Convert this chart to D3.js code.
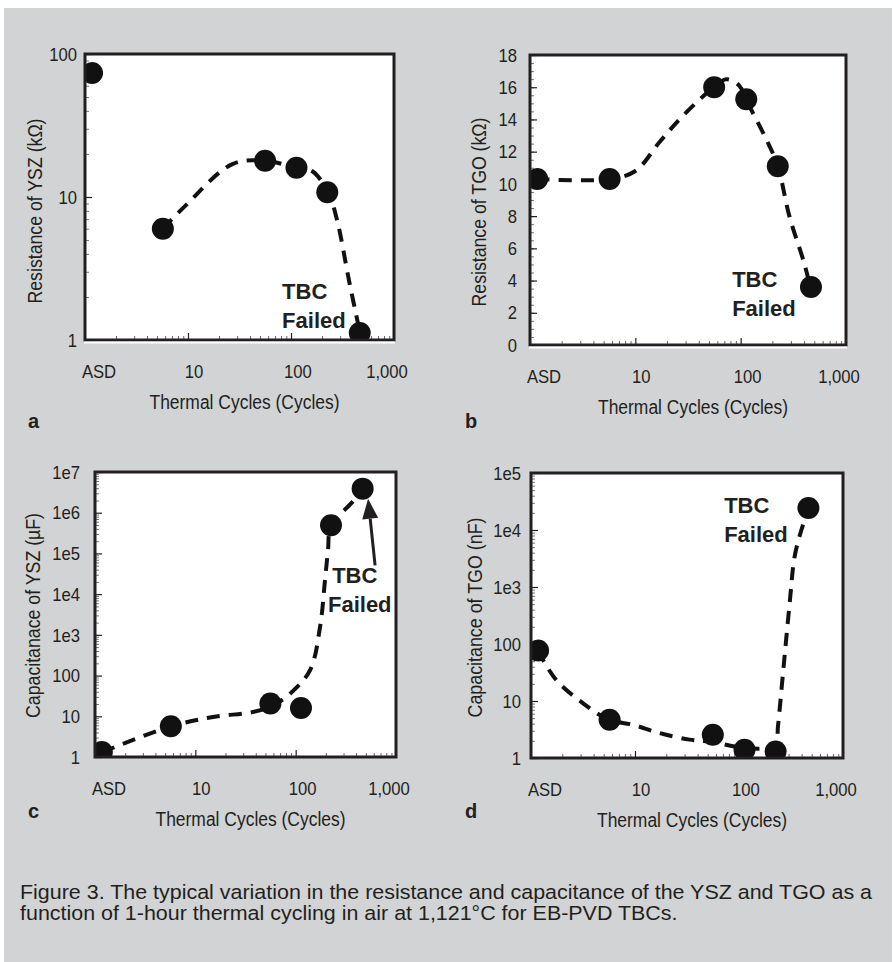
<!DOCTYPE html>
<html>
<head>
<meta charset="utf-8">
<script src="https://cdn.jsdelivr.net/npm/d3@7"></script>
<style>
  body { margin: 0; background: #fff; }
  svg { display: block; font-family: "Liberation Sans", Arial, Helvetica, sans-serif; }
</style>
</head>
<body>
<div id="fig"></div>
<script>
// Thermal cycles where the points sit (ASD = as deposited, drawn near 1)
const cycles = [1.17, 5.7, 56, 113, 225, 465];
const xTickVals = [1, 10, 100, 1000];
const xTickLabels = ["ASD", "10", "100", "1,000"];

// measured values, one per cycle
const resYSZ = [73.6, 6.0, 17.9, 16.0, 10.8, 1.12];   // kOhm
const resTGO = [10.3, 10.3, 16.0, 15.25, 11.1, 3.6];  // kOhm
const capYSZ = [1.33, 5.7, 20.5, 16, 4.9e5, 3.9e6];   // uF
const capTGO = [77, 4.7, 2.56, 1.4, 1.3, 2.43e4];     // nF

// hand-drawn dashed trend curves, [cycles, value]
const trendResYSZ = [[5.7, 6], [9.3, 8.6], [27, 17], [57, 17.9], [112, 16], [160, 15.2], [229, 10.8], [280, 6.9], [370, 2.5], [468, 1.12]];
const trendResTGO = [[1.16, 10.3], [5.67, 10.3], [10, 10.8], [17, 12.6], [28, 14.2], [55.5, 16.0], [73, 16.5], [97, 16.1], [112, 15.25], [174, 12.8], [225, 11.1], [290, 8.0], [400, 5.1], [459, 3.6]];
const trendCapYSZ = [[1.19, 1.33], [5.8, 5.7], [15, 9.6], [38, 12.8], [58, 18], [88, 36], [139, 135], [175, 1570], [196, 2.2e4], [210, 1.2e5], [225, 4.9e5], [349, 1.6e6], [484, 3.9e6]];
const trendCapTGO = [[1.16, 77], [1.74, 23.6], [3.15, 9.2], [5.6, 4.7], [9.5, 3.84], [17.2, 2.74], [33.4, 2.1], [56, 1.9], [109, 1.5], [160, 1.45], [223, 1.5], [237, 3.6], [265, 31], [305, 458], [343, 3450], [398, 1.0e4], [471, 2.43e4]];

// y ticks
const yTicksA = [1, 10, 100];
const yLabelsA = ["1", "10", "100"];
const yTicksB = [0, 2, 4, 6, 8, 10, 12, 14, 16, 18];
const yLabelsB = ["0", "2", "4", "6", "8", "10", "12", "14", "16", "18"];
const yTicksC = [1, 10, 100, 1e3, 1e4, 1e5, 1e6, 1e7];
const yLabelsC = ["1", "10", "100", "1e3", "1e4", "1e5", "1e6", "1e7"];
const yTicksD = [1, 10, 100, 1e3, 1e4, 1e5];
const yLabelsD = ["1", "10", "100", "1e3", "1e4", "1e5"];

const captionLines = [
  "Figure 3. The typical variation in the resistance and capacitance of the YSZ and TGO as a",
  "function of 1-hour thermal cycling in air at 1,121\u00B0C for EB-PVD TBCs."
];

const ink = "#231f20";
const W = 893, H = 962;

const svg = d3.select("#fig").append("svg")
  .attr("width", W)
  .attr("height", H);

// grey page
svg.append("rect")
  .attr("x", 4).attr("y", 8)
  .attr("width", W - 5).attr("height", H - 8)
  .attr("fill", "#d1d3d4");

// the original face is a narrow Helvetica, so squeeze the text horizontally
function squeeze(sel, f) {
  sel.each(function () {
    const len = this.getComputedTextLength();
    d3.select(this).attr("textLength", len * f).attr("lengthAdjust", "spacingAndGlyphs");
  });
}
function fitTo(sel, w) {
  sel.attr("textLength", w).attr("lengthAdjust", "spacingAndGlyphs");
}

// nudges for the x tick labels (they are not centred on the ticks in the original)
const xLabelNudge = [14, 6, 7, -7];

function logMinors(lo, hi) {
  const out = [];
  for (let d = lo; d < hi; d *= 10) {
    for (let k = 2; k <= 9; k++) out.push(d * k);
  }
  return out;
}

function drawPanel(cfg) {
  const [x0, x1, y0, y1] = cfg.box;

  const x = d3.scaleLog()
    .domain([1, 1000])
    .range([x0, x1]);

  const y = (cfg.yLog ? d3.scaleLog() : d3.scaleLinear())
    .domain(cfg.yDomain)
    .range([y1, y0]);

  const g = svg.append("g");

  g.append("rect")
    .attr("x", x0).attr("y", y0)
    .attr("width", x1 - x0).attr("height", y1 - y0)
    .attr("fill", "#fff");

  // ticks sit inside the frame
  g.append("g")
    .attr("transform", `translate(0,${y1})`)
    .call(d3.axisBottom(x).tickValues(logMinors(1, 1000)).tickSize(-4).tickFormat(""))
    .call(a => a.select(".domain").remove())
    .call(a => a.selectAll("line").attr("stroke", "#666"));
  g.append("g")
    .attr("transform", `translate(0,${y1})`)
    .call(d3.axisBottom(x).tickValues([10, 100]).tickSize(-7).tickFormat(""))
    .call(a => a.select(".domain").remove())
    .call(a => a.selectAll("line").attr("stroke", ink).attr("stroke-width", 1.2));

  const yMinor = cfg.yLog ? logMinors(cfg.yDomain[0], cfg.yDomain[1]) : d3.range(0, 18.01, 0.5);
  g.append("g")
    .attr("transform", `translate(${x0},0)`)
    .call(d3.axisLeft(y).tickValues(yMinor).tickSize(-4).tickFormat(""))
    .call(a => a.select(".domain").remove())
    .call(a => a.selectAll("line").attr("stroke", "#777"));
  g.append("g")
    .attr("transform", `translate(${x0},0)`)
    .call(d3.axisLeft(y).tickValues(cfg.yTicks).tickSize(-7).tickFormat(""))
    .call(a => a.select(".domain").remove())
    .call(a => a.selectAll("line").attr("stroke", ink).attr("stroke-width", 1.2));

  // tick labels
  const xl = g.selectAll(".xl")
    .data(xTickVals)
    .enter().append("text")
      .attr("x", (d, i) => x(d) + xLabelNudge[i])
      .attr("y", y1 + 38)
      .attr("text-anchor", "middle")
      .style("font-size", "18.5px")
      .attr("fill", ink)
      .text((d, i) => xTickLabels[i]);
  squeeze(xl, 0.9);

  const yl = g.selectAll(".yl")
    .data(cfg.yTicks)
    .enter().append("text")
      .attr("x", x0 - cfg.yLabelGap)
      .attr("y", d => y(d))
      .attr("dy", "0.36em")
      .attr("text-anchor", "end")
      .style("font-size", "18.5px")
      .attr("fill", ink)
      .text((d, i) => cfg.yLabels[i]);
  squeeze(yl, 0.9);

  // axis titles
  const xt = g.append("text")
    .attr("x", (x0 + x1) / 2 + 5)
    .attr("y", y1 + 69)
    .attr("text-anchor", "middle")
    .style("font-size", "20px")
    .attr("fill", ink)
    .text("Thermal Cycles (Cycles)");
  fitTo(xt, 190);

  const yt = g.append("text")
    .attr("transform", `translate(${cfg.yTitleX},${(y0 + y1) / 2 + cfg.yTitleDy}) rotate(-90)`)
    .attr("text-anchor", "middle")
    .style("font-size", "20px")
    .attr("fill", ink)
    .text(cfg.yTitle);
  fitTo(yt, cfg.yTitleW);

  // data, clipped to the frame
  const clipId = "clip-" + cfg.key;
  g.append("clipPath").attr("id", clipId)
    .append("rect")
      .attr("x", x0).attr("y", y0)
      .attr("width", x1 - x0).attr("height", y1 - y0);

  const plot = g.append("g").attr("clip-path", `url(#${clipId})`);

  plot.append("path")
    .datum(cfg.trend)
    .attr("fill", "none")
    .attr("stroke", "#111")
    .attr("stroke-width", 4)
    .attr("stroke-dasharray", "13,9")
    .attr("d", d3.line()
      .x(d => x(d[0]))
      .y(d => y(d[1]))
      .curve(d3.curveCatmullRom.alpha(0.5)));

  plot.selectAll("circle")
    .data(cfg.values)
    .enter().append("circle")
      .attr("cx", (d, i) => x(cycles[i]))
      .attr("cy", d => y(d))
      .attr("r", 11)
      .attr("fill", "#111");

  // frame
  g.append("rect")
    .attr("x", x0).attr("y", y0)
    .attr("width", x1 - x0).attr("height", y1 - y0)
    .attr("fill", "none")
    .attr("stroke", ink)
    .attr("stroke-width", 3);
  if (cfg.whiteUnder) {
    g.append("line")
      .attr("x1", x0 - 1).attr("x2", x1 + 1)
      .attr("y1", y1 + 2.5).attr("y2", y1 + 2.5)
      .attr("stroke", "#fff").attr("stroke-width", 2);
  }

  // "TBC Failed" note
  const note = g.append("text")
    .style("font-size", "22px")
    .style("font-weight", "bold")
    .attr("fill", ink);
  note.append("tspan").attr("x", x(cfg.note[0][0])).attr("y", y(cfg.note[0][1])).text("TBC");
  note.append("tspan").attr("x", x(cfg.note[1][0])).attr("y", y(cfg.note[1][1])).text("Failed");

  if (cfg.arrow) {
    const ax0 = x(cfg.arrow[0][0]), ay0 = y(cfg.arrow[0][1]);
    const ax1 = x(cfg.arrow[1][0]), ay1 = y(cfg.arrow[1][1]);
    const ang = Math.atan2(ay1 - ay0, ax1 - ax0);
    const hl = 20, hw = 8;
    const bx = ax1 - hl * Math.cos(ang), by = ay1 - hl * Math.sin(ang);
    g.append("line")
      .attr("x1", ax0).attr("y1", ay0)
      .attr("x2", bx).attr("y2", by)
      .attr("stroke", ink).attr("stroke-width", 3);
    g.append("path")
      .attr("d", `M${ax1},${ay1}L${bx + hw * Math.sin(ang)},${by - hw * Math.cos(ang)}L${bx - hw * Math.sin(ang)},${by + hw * Math.cos(ang)}Z`)
      .attr("fill", ink);
  }

  // panel letter
  svg.append("text")
    .attr("x", cfg.letterPos[0])
    .attr("y", cfg.letterPos[1])
    .style("font-size", "20px")
    .style("font-weight", "bold")
    .attr("fill", ink)
    .text(cfg.key);
}

drawPanel({
  key: "a", box: [85, 394, 54, 340], yLog: true, yDomain: [1, 100],
  yTicks: yTicksA, yLabels: yLabelsA, yLabelGap: 8,
  yTitle: "Resistance of YSZ (k\u03A9)", yTitleX: 42, yTitleDy: 14, yTitleW: 185,
  values: resYSZ, trend: trendResYSZ,
  note: [[82, 1.94], [82, 1.21]], whiteUnder: true, letterPos: [28, 428]
});
drawPanel({
  key: "b", box: [530, 846, 55, 345], yLog: false, yDomain: [0, 18],
  yTicks: yTicksB, yLabels: yLabelsB, yLabelGap: 13,
  yTitle: "Resistance of TGO (k\u03A9)", yTitleX: 486, yTitleDy: 12, yTitleW: 189,
  values: resTGO, trend: trendResTGO,
  note: [[83, 3.58], [83, 1.77]], whiteUnder: true, letterPos: [465, 428]
});
drawPanel({
  key: "c", box: [95, 396, 472, 757], yLog: true, yDomain: [1, 1e7],
  yTicks: yTicksC, yLabels: yLabelsC, yLabelGap: 15,
  yTitle: "Capacitanace of YSZ (\u00B5F)", yTitleX: 40, yTitleDy: 1, yTitleW: 205,
  values: capYSZ, trend: trendCapYSZ,
  note: [[231, 1.85e4], [210, 3590]], arrow: [[619, 5.1e4], [527, 2.2e6]],
  whiteUnder: false, letterPos: [28, 818]
});
drawPanel({
  key: "d", box: [531, 843, 473, 758], yLog: true, yDomain: [1, 1e5],
  yTicks: yTicksD, yLabels: yLabelsD, yLabelGap: 10,
  yTitle: "Capacitance of TGO (nF)", yTitleX: 482, yTitleDy: 2, yTitleW: 200,
  values: capTGO, trend: trendCapTGO,
  note: [[72, 2.0e4], [72, 6240]],
  whiteUnder: false, letterPos: [465, 818]
});

// caption
const cap = svg.append("g");
captionLines.forEach((line, i) => {
  cap.append("text")
    .attr("x", 20)
    .attr("y", 899 + i * 21)
    .style("font-size", "20.5px")
    .attr("fill", ink)
    .text(line);
});
const natural = cap.select("text").node().getComputedTextLength();
squeeze(cap.selectAll("text"), 852 / natural);
</script>
</body>
</html>
